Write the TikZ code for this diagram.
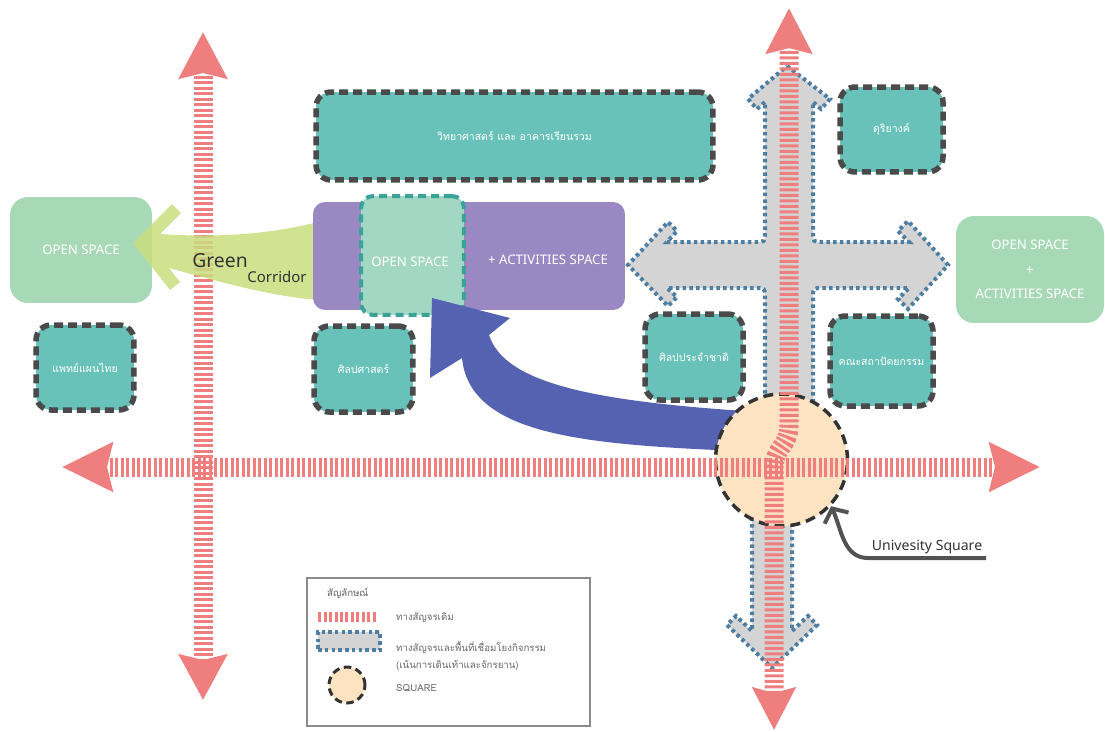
\documentclass[tikz,border=0pt]{standalone}
\usepackage{fontspec}
\setmainfont{Noto Sans}
\newfontfamily\thaifont[Script=Thai]{Loma}
\usepackage{tikz}
\usetikzlibrary{positioning, arrows.meta}
\definecolor{rRoad}{HTML}{EF7E7E}
\definecolor{cGray}{HTML}{D4D4D4}
\definecolor{cBlue}{HTML}{4E7FA3}
\definecolor{bTeal}{HTML}{69C2B9}
\definecolor{bEdge}{HTML}{4A4A4A}
\definecolor{oGreen}{HTML}{A7D9B6}
\definecolor{aPurple}{HTML}{9A88C3}
\definecolor{iGreen}{HTML}{A2D8C3}
\definecolor{iEdge}{HTML}{3AA397}
\definecolor{fBlue}{HTML}{5562B2}
\definecolor{fGreen}{HTML}{C9DE7E}
\definecolor{sPeach}{HTML}{FDE3C2}
\definecolor{nInk}{HTML}{333333}
\definecolor{lGray}{HTML}{666666}
\definecolor{lEdge}{HTML}{8A8A8A}

\begin{document}
\begin{tikzpicture}[x=0.02cm, y=-0.02cm,
  bldg/.style={draw=bEdge, fill=bTeal, line width=0.11cm, dash pattern=on 0.18cm off 0.1cm,
    rounded corners=0.3cm, text=white, font=\thaifont\fontsize{6}{7}\selectfont},
  openbox/.style={fill=oGreen, rounded corners=0.36cm, text=white,
    font=\fontsize{7.5}{14}\selectfont, align=center},
  boxtext/.style={text=white, font=\fontsize{7.5}{9}\selectfont},
  corr/.style={fill=cGray, draw=cBlue, line width=0.08cm, dash pattern=on 0.07cm off 0.065cm},
  road/.style={draw=rRoad, line width=0.38cm, dash pattern=on 0.06cm off 0.05cm},
  sqcircle/.style={circle, fill=sPeach, draw=nInk, line width=0.07cm,
    dash pattern=on 0.2cm off 0.12cm, inner sep=0pt},
  legtext/.style={anchor=west, text=lGray, font=\thaifont\fontsize{5.5}{9.5}\selectfont, align=left}]
  \useasboundingbox (0,0) rectangle (1105,731);

  % activity corridor
  \draw[corr] (787,66) -- (830,99) -- (821,109) -- (813,102)
    -- (813,232) .. controls (813,242) .. (823,242)
    -- (909,242) -- (898,231) -- (908,221) -- (948,265) -- (908,309) -- (898,299) -- (909,288)
    -- (823,288) .. controls (813,288) .. (813,298)
    -- (813,470) -- (765,470)
    -- (765,298) .. controls (765,288) .. (755,288)
    -- (667,288) -- (677,297) -- (668,306) -- (628,265) -- (668,222) -- (677,231) -- (667,242)
    -- (755,242) .. controls (765,242) .. (765,232)
    -- (765,102) -- (757,109) -- (748,99) -- cycle;
  \draw[corr] (752,470) -- (752,631) -- (736,616) -- (727,625) -- (772,668)
    -- (817,625) -- (808,616) -- (792,631) -- (792,470) -- cycle;

  \node[bldg, minimum width=7.94cm, minimum height=1.76cm] (sci) at (514.5,136) {วิทยาศาสตร์  และ อาคารเรียนรวม};
  \node[bldg, minimum width=2.06cm, minimum height=1.7cm] (music) at (891.5,129.5) {ดุริยางค์};
  \node[bldg, minimum width=1.96cm, minimum height=1.7cm] (thaimed) at (85,367.5) {แพทย์แผนไทย};
  \node[bldg, minimum width=1.98cm, minimum height=1.72cm] (libarts) at (363.5,369) {ศิลปศาสตร์};
  \node[bldg, minimum width=1.96cm, minimum height=1.72cm] (natarts) at (694,357) {ศิลปประจำชาติ};
  \node[bldg, minimum width=2.06cm, minimum height=1.8cm] (arch) at (881.5,361) {คณะสถาปัตยกรรม};

  \node[openbox, minimum width=2.84cm, minimum height=2.12cm] (openL) at (81,250) {OPEN SPACE};
  \node[openbox, minimum width=2.96cm, minimum height=2.14cm] (openR) at (1030,269.5) {OPEN SPACE\\+\\ACTIVITIES SPACE};

  \draw[road, {Stealth[length=0.92cm,width=0.94cm,inset=0.1cm]}-{Stealth[length=0.9cm,width=0.94cm,inset=0.1cm]}]
    (203,32) -- (203,700);

  % green corridor
  \fill[fGreen, opacity=0.85] (318,222) .. controls (270,234) and (220,238) .. (160,234)
    -- (181,213) -- (172,204) -- (133,243) -- (170,290) -- (180,282) -- (169,268)
    .. controls (220,282) and (270,296) .. (318,300) -- cycle;
  \node[font=\fontsize{11}{13}\selectfont, text=nInk] (greenlbl) at (220,261) {Green};
  \node[font=\fontsize{8.5}{10}\selectfont, text=nInk] (corrlbl) at (277,277) {Corridor};

  \node[fill=aPurple, rounded corners=0.24cm, minimum width=6.24cm, minimum height=2.16cm] (act) at (469,256) {};
  \node[fill=iGreen, draw=iEdge, line width=0.08cm, dash pattern=on 0.16cm off 0.1cm, rounded corners=0.24cm,
    minimum width=2.06cm, minimum height=2.38cm] (inner) at (412.5,255.5) {};
  \node[boxtext] (innertxt) at (410,262) {OPEN SPACE};
  \node[boxtext] (acttxt) at (548,260) {+ ACTIVITIES SPACE};

  % flow to the open space
  \fill[fBlue] (432,298) -- (510,318) -- (489,335) .. controls (505,385) and (600,402) .. (760,412)
    -- (760,452) .. controls (600,445) and (470,440) .. (462,358) -- (430,378) -- cycle;

  \node[sqcircle, minimum size=2.64cm] (sq) at (781.5,460) {};

  \draw[road, {Stealth[length=1cm,width=0.95cm,inset=0.1cm]}-{Stealth[length=1cm,width=0.95cm,inset=0.1cm]}]
    (62,467) -- (1040,467);
  \draw[road, {Stealth[length=0.9cm,width=0.9cm,inset=0.1cm]}-{Stealth[length=0.84cm,width=0.84cm,inset=0.1cm]}]
    (789,8) -- (789,425) .. controls (789,448) and (774,445) .. (774,470) -- (774,730);

  \node[font=\fontsize{8}{10}\selectfont, text=nInk, anchor=south west, inner sep=2pt] (sqtext) at (868,558) {Univesity Square};
  \draw[draw=nInk!85, line width=0.08cm, -{Straight Barb[length=6pt,width=15pt]}]
    (sqtext.south east) -- (sqtext.south west) to[out=180,in=-65] (sq.-43);

  % legend
  \node[draw=lEdge, line width=0.03cm, fill=white, minimum width=5.66cm, minimum height=2.96cm] (legend) at (448.5,652) {};
  \node[legtext, text=nInk!80] (legtitle) at (321,593) {สัญลักษณ์};
  \draw[road, line width=0.2cm] (318,617) -- (378,617);
  \node[legtext] (leg1) at (390,618) {ทางสัญจรเดิม};
  \node[corr, minimum width=1.24cm, minimum height=0.36cm] (legcorr) at (349,641) {};
  \node[legtext] (leg2) at (390,656) {ทางสัญจรและพื้นที่เชื่อมโยงกิจกรรม\\(เน้นการเดินเท้าและจักรยาน)};
  \node[sqcircle, minimum size=0.72cm, line width=0.06cm, dash pattern=on 0.15cm off 0.09cm] (legsq) at (347,685) {};
  \node[legtext] (leg3) at (390,688) {SQUARE};
\end{tikzpicture}
\end{document}
